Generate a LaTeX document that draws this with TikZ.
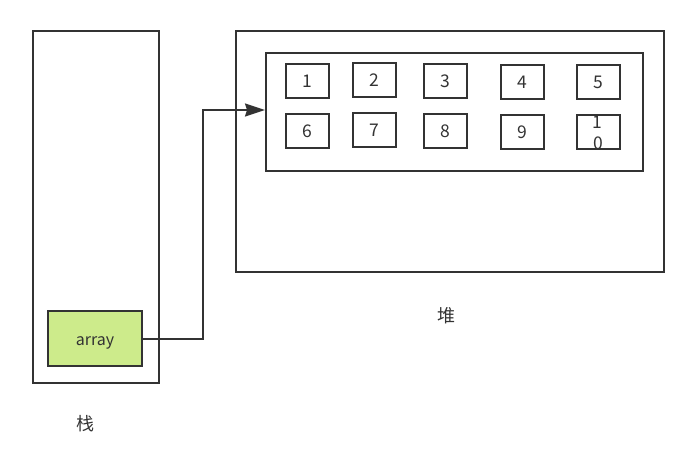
\documentclass[tikz,border=0pt]{standalone}
\usepackage{fontspec}
\setmainfont{Noto Sans CJK SC}
\usetikzlibrary{arrows.meta}
\definecolor{ln}{HTML}{333333}
\definecolor{grn}{HTML}{CDEB8B}
\tikzset{
  frame/.style={draw=ln, line width=2pt},
  digit/.style={inner sep=0pt, font=\fontsize{17.5}{20}\selectfont, text=ln, text height=12.8pt, text depth=0pt},
  cell/.style={draw=ln, line width=2pt, minimum width=43pt, minimum height=34pt, digit},
  lbl/.style={inner sep=0pt, font=\fontsize{18}{21}\selectfont, text=ln},
  conn/.style={draw=ln, line width=2pt, -{Stealth[length=20pt, width=13pt, inset=2pt]}}
}
\begin{document}
\begin{tikzpicture}[x=1pt, y=-1pt]
\useasboundingbox (0,0) rectangle (692,464);
% stack
\node[frame, minimum width=126pt, minimum height=352pt, inner sep=0pt, anchor=north west] (stack) at (32,30) {};
\node[draw=ln, line width=2pt, fill=grn, minimum width=94pt, minimum height=55pt, inner sep=0pt, font=\fontsize{16}{19}\selectfont, text=ln, text height=13pt, text depth=0pt] (array) at (95,338.5) {array};
% heap
\node[frame, minimum width=428pt, minimum height=241pt, inner sep=0pt, anchor=north west] (heap) at (235,30) {};
\node[frame, minimum width=377pt, minimum height=118pt, inner sep=0pt, anchor=north west] (inner) at (265,52) {};
% cells
\node[cell] (c1) at (307,81) {1};
\node[cell] (c2) at (374,80) {2};
\node[cell] (c3) at (445,81) {3};
\node[cell] (c4) at (522,82) {4};
\node[cell] (c5) at (598.5,82) {5};
\node[cell] (c6) at (307,131) {6};
\node[cell] (c7) at (374,130) {7};
\node[cell] (c8) at (445,131) {8};
\node[cell] (c9) at (522,132) {9};
\node[cell] (c10) at (598.5,132) {};
\node[digit] (t10a) at (597,122.5) {1};
\node[digit] (t10b) at (598,143.5) {0};
% connector
\coordinate (tgt) at (inner.west |- 0,110);
\draw[conn] (array.east) -- (203,338.5) -- (203,110) -- (tgt);
% labels
\node[lbl] (ls) at (85,423.5) {栈};
\node[lbl] (lh) at (446,315.5) {堆};
\end{tikzpicture}
\end{document}
